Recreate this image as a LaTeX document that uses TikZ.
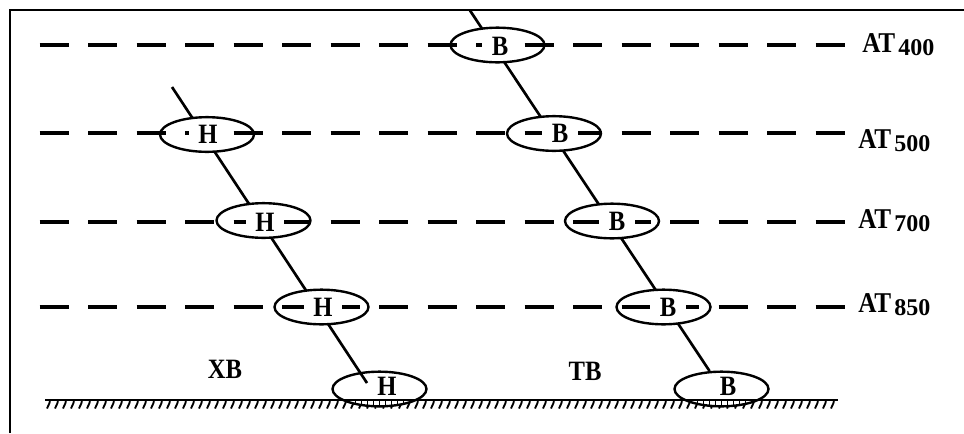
\documentclass[tikz,border=0pt]{standalone}
\usepackage{fontspec}
\setmainfont{Liberation Serif}
\newfontfamily\lblfont[FakeStretch=0.88]{Liberation Serif}
\usetikzlibrary{shapes.geometric}
\pgfdeclarelayer{bg}
\pgfsetlayers{bg,main}

\tikzset{
  cell/.style={ellipse, draw, line width=1.8pt, fill=white,
    minimum width=70.5pt, minimum height=26pt, inner sep=0pt},
  groundcell/.style={cell, fill=none},
  letter/.style={font=\lblfont\bfseries\fontsize{21pt}{23pt}\selectfont,
    inner xsep=7pt, inner ysep=0.5pt, fill=white},
  groundletter/.style={letter, fill=none, inner sep=0pt},
  isobar/.style={line width=2.6pt, dash pattern=on 21.75pt off 14.625pt},
  rope/.style={line width=2pt},
  groundline/.style={line width=2.2pt},
  hatch/.style={line width=1.4pt},
  boxedge/.style={line width=1.5pt},
  lvlname/.style={font=\lblfont\bfseries\fontsize{21.5pt}{23pt}\selectfont,
    anchor=base west, inner sep=0pt},
  lvlsub/.style={font=\bfseries\fontsize{18pt}{20pt}\selectfont,
    anchor=base west, inner sep=0pt, xshift=2pt, yshift=-2.25pt},
}

\begin{document}
\begin{tikzpicture}[x=0.75pt,y=-0.75pt]
\useasboundingbox (0,0) rectangle (964,433);
\begin{pgfonlayer}{bg}
  \fill[white] (0,0) rectangle (964,433);
\end{pgfonlayer}

% outer frame (top and left edges)
\draw[boxedge] (10,433) -- (10,9.5) -- (964,9.5);

% low-pressure column
\node[cell] (h1) at (207,134.5) {};
\node[cell] (h2) at (263.5,220.5) {};
\node[cell] (h3) at (321.5,307) {};
\node[groundcell] (h4) at (379.5,389) {};

% high-pressure column
\node[cell] (b1) at (497.5,45) {};
\node[cell] (b2) at (554,133.5) {};
\node[cell] (b3) at (612,221) {};
\node[cell] (b4) at (663.5,307) {};
\node[groundcell] (b5) at (721.5,389) {};

% axes of the two columns, ground surface
\coordinate (htop) at (172,87);
\coordinate (hend) at (367,383);
\coordinate (btop) at (470,10.5);
\coordinate (gl) at (45,400);
\coordinate (gr) at (838,400);
\begin{pgfonlayer}{bg}
  \draw[rope] (htop) -- (hend);
  \draw[rope] (btop) -- (b5);
  \draw[groundline] (gl) -- (gr);
  \foreach \x in {49,57,...,833}
    \draw[hatch] (\x+1,400) -- (\x+0.5,403) -- (\x-2,408.5);
  \foreach \c in {h4,b5}{
    \begin{scope}
      \clip (\c.center) ellipse [x radius=35.25pt, y radius=13pt];
      \fill[white] ([xshift=-40pt]\c.center |- gl) rectangle ([xshift=40pt,yshift=-12pt]\c.center |- gl);
      \draw[groundline] ([xshift=-40pt]\c.center |- gl) -- ([xshift=40pt]\c.center |- gl);
      \foreach \d in {-42,-36,...,42}
        \draw[hatch] ([xshift=\d*0.75pt]\c.center |- gl) -- ([xshift=\d*0.75pt,yshift=-7pt]\c.center |- gl);
    \end{scope}
  }
\end{pgfonlayer}

% isobaric surfaces
\foreach \y in {45,133,222,307}
  \draw[isobar] (39.5,\y) -- (844.5,\y);

% cell letters
\node[letter] (h1t) at (208,134) {Н};
\node[letter] (h2t) at (265,222) {Н};
\node[letter] (h3t) at (323,307) {Н};
\node[groundletter] (h4t) at (387,386) {Н};
\node[letter] (b1t) at (500,46) {В};
\node[letter] (b2t) at (560,133) {В};
\node[letter] (b3t) at (617,221) {В};
\node[letter] (b4t) at (668,307) {В};
\node[groundletter] (b5t) at (728,386) {В};

% air masses
\node[groundletter] (cold) at (225,369) {ХВ};
\node[groundletter] (warm) at (585,371) {ТВ};

% level names
\node[lvlname] (a400) at (862,52) {АТ};
\node[lvlsub] (s400) at (a400.base east) {400};
\node[lvlname] (a500) at (858,148) {АТ};
\node[lvlsub] (s500) at (a500.base east) {500};
\node[lvlname] (a700) at (858,228) {АТ};
\node[lvlsub] (s700) at (a700.base east) {700};
\node[lvlname] (a850) at (858,312) {АТ};
\node[lvlsub] (s850) at (a850.base east) {850};
\end{tikzpicture}
\end{document}
